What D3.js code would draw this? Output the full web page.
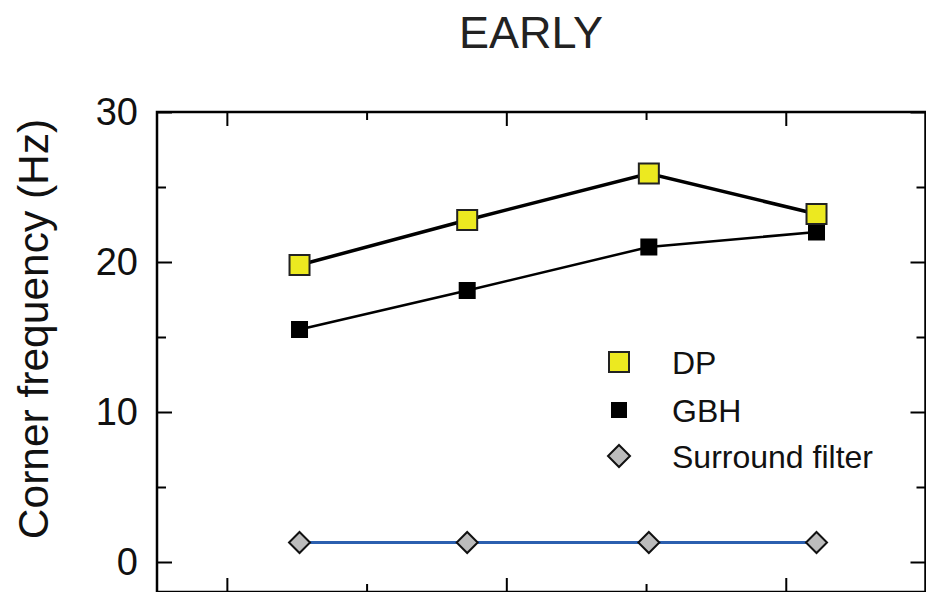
<!DOCTYPE html>
<html>
<head>
<meta charset="utf-8">
<script src="https://cdn.jsdelivr.net/npm/d3@7"></script>
<style>
  html, body { margin: 0; padding: 0; background: #fff; }
  svg { display: block; font-family: "Liberation Sans", Arial, sans-serif; }
</style>
</head>
<body>
<svg id="chart" width="926" height="592"></svg>
<script>
// ---- data ----
const title = "EARLY";
const yLabel = "Corner frequency (Hz)";
const xPositions = [1.52, 2.72, 4.02, 5.22];
const dpValues = [19.8, 22.8, 25.9, 23.2];
const gbhValues = [15.5, 18.1, 21.0, 22.0];
const surroundValues = [1.3, 1.3, 1.3, 1.3];
const yMajorTicks = [0, 10, 20, 30];
const yMinorTicks = [5, 15, 25];
const xMajorTicks = [1, 3, 5];
const xMinorTicks = [2, 4];
const legendLabels = ["DP", "GBH", "Surround filter"];

// ---- layout ----
const svg = d3.select("#chart");
const L = 157, R = 925.5, T = 112, B = 592;
const x = d3.scaleLinear().domain([0.5, 6.0]).range([L, R]);
const y = d3.scaleLinear().domain([-2, 30]).range([B, T]);

// title
svg.append("text").attr("x", 531).attr("y", 48).attr("text-anchor", "middle")
  .attr("font-size", 45).attr("fill", "#222").text(title);

// y label
svg.append("text").attr("transform", "translate(48,329) rotate(-90)")
  .attr("text-anchor", "middle").attr("font-size", 42.5).attr("fill", "#111").text(yLabel);

// axes
function styleAxis(g) {
  g.select(".domain").remove();
  g.selectAll(".tick line").attr("stroke", "#000").attr("stroke-width", 2);
  g.selectAll(".tick text").attr("fill", "#111");
}
svg.append("g").attr("transform", `translate(${L},0)`)
  .call(d3.axisLeft(y).tickValues(yMajorTicks).tickSizeInner(-15).tickSizeOuter(0).tickPadding(19).tickFormat(d3.format("d")))
  .call(styleAxis)
  .call(g => g.selectAll(".tick text").attr("font-size", 38).attr("font-family", "Liberation Sans, Arial, sans-serif"));
svg.append("g").attr("transform", `translate(${L},0)`)
  .call(d3.axisLeft(y).tickValues(yMinorTicks).tickSizeInner(-9).tickSizeOuter(0).tickFormat(""))
  .call(styleAxis);
svg.append("g").attr("transform", `translate(${R},0)`)
  .call(d3.axisRight(y).tickValues(yMajorTicks).tickSizeInner(-15).tickSizeOuter(0).tickFormat(""))
  .call(styleAxis);
svg.append("g").attr("transform", `translate(${R},0)`)
  .call(d3.axisRight(y).tickValues(yMinorTicks).tickSizeInner(-9).tickSizeOuter(0).tickFormat(""))
  .call(styleAxis);
svg.append("g").attr("transform", `translate(0,${B})`)
  .call(d3.axisBottom(x).tickValues(xMajorTicks).tickSizeInner(-14).tickSizeOuter(0).tickFormat(""))
  .call(styleAxis);
svg.append("g").attr("transform", `translate(0,${B})`)
  .call(d3.axisBottom(x).tickValues(xMinorTicks).tickSizeInner(-8).tickSizeOuter(0).tickFormat(""))
  .call(styleAxis);
svg.append("g").attr("transform", `translate(0,${T})`)
  .call(d3.axisTop(x).tickValues(xMajorTicks).tickSizeInner(-14).tickSizeOuter(0).tickFormat(""))
  .call(styleAxis);
svg.append("g").attr("transform", `translate(0,${T})`)
  .call(d3.axisTop(x).tickValues(xMinorTicks).tickSizeInner(-8).tickSizeOuter(0).tickFormat(""))
  .call(styleAxis);

// frame
svg.append("rect").attr("x", L).attr("y", T).attr("width", R - L).attr("height", B - T)
  .attr("fill", "none").attr("stroke", "#000").attr("stroke-width", 2.5);

// lines
const line = vals => d3.line().x((d, i) => x(xPositions[i])).y(d => y(d))(vals);
svg.append("path").attr("d", line(surroundValues)).attr("fill", "none").attr("stroke", "#2b5faf").attr("stroke-width", 3);
svg.append("path").attr("d", line(gbhValues)).attr("fill", "none").attr("stroke", "#000").attr("stroke-width", 2.5);
svg.append("path").attr("d", line(dpValues)).attr("fill", "none").attr("stroke", "#000").attr("stroke-width", 3.5);

// markers
const diamond = (cx, cy, r) => `M${cx},${cy - r}L${cx + r},${cy}L${cx},${cy + r}L${cx - r},${cy}Z`;
svg.selectAll(".sur").data(surroundValues).join("path").attr("class", "sur")
  .attr("d", (d, i) => diamond(x(xPositions[i]), y(d), 10.5))
  .attr("fill", "#bcbcbc").attr("stroke", "#111").attr("stroke-width", 2);
svg.selectAll(".gbh").data(gbhValues).join("rect").attr("class", "gbh")
  .attr("x", (d, i) => x(xPositions[i]) - 8.5).attr("y", d => y(d) - 8.5)
  .attr("width", 17).attr("height", 17).attr("fill", "#000");
svg.selectAll(".dp").data(dpValues).join("rect").attr("class", "dp")
  .attr("x", (d, i) => x(xPositions[i]) - 10).attr("y", d => y(d) - 10)
  .attr("width", 20).attr("height", 20).attr("fill", "#ece920").attr("stroke", "#222").attr("stroke-width", 2);

// legend
const legY = [362, 410, 456];
const lg = svg.append("g");
lg.append("rect").attr("x", 619 - 10).attr("y", legY[0] - 10).attr("width", 20).attr("height", 20)
  .attr("fill", "#ece920").attr("stroke", "#222").attr("stroke-width", 2);
lg.append("rect").attr("x", 619 - 8).attr("y", legY[1] - 8).attr("width", 16).attr("height", 16).attr("fill", "#000");
lg.append("path").attr("d", diamond(619, legY[2], 11)).attr("fill", "#bcbcbc").attr("stroke", "#111").attr("stroke-width", 2);
legendLabels.forEach((t, i) => {
  lg.append("text").attr("x", 672).attr("y", legY[i] + 11.5).attr("font-size", 32).attr("fill", "#111").text(t);
});
</script>
</body>
</html>
